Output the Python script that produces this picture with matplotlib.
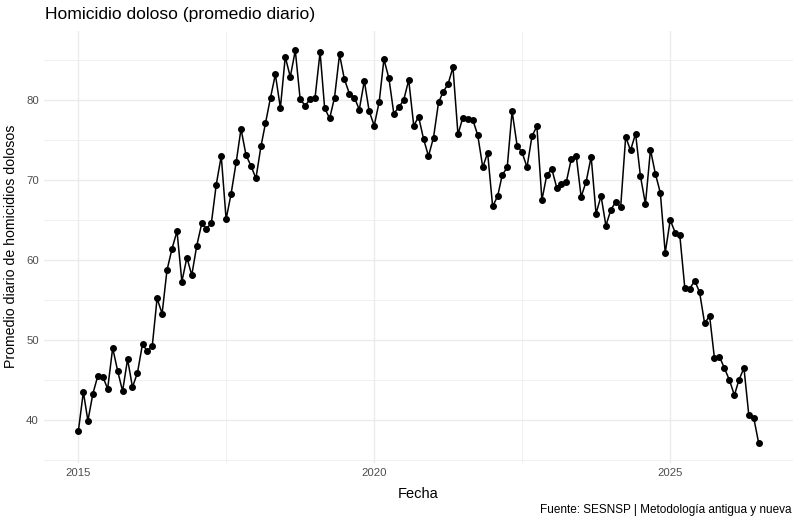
import numpy as np
import pandas as pd
import matplotlib
matplotlib.use("Agg")
import matplotlib.pyplot as plt
import matplotlib.dates as mdates

plt.rcParams['font.family'] = ['Liberation Sans', 'DejaVu Sans']

# monthly daily average of intentional homicides, Jan 2015 - Jul 2026
fechas = pd.date_range("2015-01-01", periods=139, freq="MS")
valores = [
    38.6, 43.5, 39.9, 43.3, 45.5, 45.4, 43.9, 49.0, 46.1, 43.6, 47.6, 44.1,
    45.9, 49.5, 48.6, 49.2, 55.2, 53.3, 58.7, 61.4, 63.6, 57.3, 60.3, 58.1,
    61.8, 64.6, 63.9, 64.6, 69.4, 73.0, 65.1, 68.3, 72.2, 76.4, 73.1, 71.8,
    70.2, 74.2, 77.1, 80.3, 83.2, 79.0, 85.4, 82.9, 86.2, 80.1, 79.3, 80.1,
    80.3, 86.0, 79.0, 77.7, 80.3, 85.7, 82.6, 80.8, 80.3, 78.8, 82.4, 78.6,
    76.8, 79.8, 85.1, 82.7, 78.3, 79.1, 80.0, 82.5, 76.8, 77.9, 75.1, 73.0,
    75.3, 79.7, 81.0, 82.0, 84.1, 75.7, 77.8, 77.6, 77.5, 75.6, 71.6, 73.4,
    66.7, 68.0, 70.6, 71.6, 78.6, 74.3, 73.5, 71.6, 75.5, 76.7, 67.5, 70.6,
    71.4, 69.0, 69.5, 69.8, 72.6, 73.0, 67.9, 69.8, 72.9, 65.8, 68.0, 64.3,
    66.3, 67.3, 66.6, 75.4, 73.7, 75.8, 70.5, 67.0, 73.8, 70.8, 68.4, 60.9,
    65.0, 63.4, 63.1, 56.5, 56.4, 57.4, 56.0, 52.1, 53.0, 47.7, 47.9, 46.5,
    45.0, 43.1, 45.0, 46.5, 40.6, 40.2, 37.1,
]
y_ticks = [40, 50, 60, 70, 80]
x_ticks = ["2015-01-01", "2020-01-01", "2025-01-01"]
x_minor = ["2017-07-02", "2022-07-02"]

fig = plt.figure(figsize=(8, 5.24), dpi=100)
ax = fig.add_axes([0.0554, 0.1168, 0.9355, 0.8244])

grid_col = "#EBEBEB"
for s in ax.spines.values():
    s.set_visible(False)

ax.plot(fechas, valores, color="black", linewidth=1.1, marker="o",
        markersize=4.0, zorder=3)

# ggplot-style 5% expansion
xn = mdates.date2num(fechas)
dx = (xn.max() - xn.min()) * 0.05
ax.set_xlim(xn.min() - dx, xn.max() + dx)
dy = (max(valores) - min(valores)) * 0.05
ax.set_ylim(min(valores) - dy, max(valores) + dy)

ax.set_xticks([mdates.datestr2num(d) for d in x_ticks])
ax.set_xticklabels([d[:4] for d in x_ticks])
ax.set_xticks([mdates.datestr2num(d) for d in x_minor], minor=True)
ax.set_yticks(y_ticks)
ax.set_yticks([v + 5 for v in [30] + y_ticks], minor=True)
ax.set_yticklabels([str(v) for v in y_ticks])

ax.grid(True, which="major", color=grid_col, linewidth=1.0)
ax.grid(True, which="minor", color=grid_col, linewidth=0.5)
ax.set_axisbelow(True)
ax.tick_params(which="both", length=0)
ax.tick_params(axis="both", labelsize=8.2, labelcolor="#4D4D4D", pad=4)

ax.set_xlabel("Fecha", fontsize=10.5, labelpad=6)
ax.set_ylabel("Promedio diario de homicidios dolosos", fontsize=10.2, labelpad=6)

fig.text(45 / 800, 1 - 14 / 524, "Homicidio doloso (promedio diario)",
         fontsize=12.6, ha="left", va="center")
fig.text(792 / 800, 1 - 510 / 524, "Fuente: SESNSP | Metodología antigua y nueva",
         fontsize=8.5, ha="right", va="center")

fig.savefig("out.png", dpi=100)
